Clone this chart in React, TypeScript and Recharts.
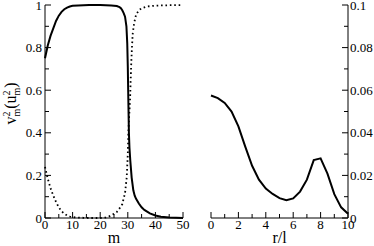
import React from 'react';
import { LineChart, Line, XAxis, YAxis } from 'recharts';

// v_m^2 (solid)
const vM = [0, 1, 2, 3, 4, 5, 6, 7, 8, 9, 10, 12, 14, 16, 18, 20, 22, 24, 25, 26, 27, 27.5, 28, 28.5, 29, 29.5, 29.8, 30, 30.2, 30.4, 30.6, 30.9, 31.4, 32, 32.5, 33, 34, 35, 36, 38, 40, 42, 45, 50];
const vVal = [0.75, 0.81, 0.855, 0.89, 0.925, 0.95, 0.968, 0.98, 0.988, 0.993, 0.996, 0.998, 0.999, 1, 1, 1, 0.999, 0.998, 0.997, 0.995, 0.99, 0.985, 0.975, 0.962, 0.945, 0.9, 0.82, 0.71, 0.55, 0.4, 0.33, 0.27, 0.19, 0.13, 0.105, 0.09, 0.068, 0.05, 0.038, 0.022, 0.012, 0.006, 0.002, 0];

// u_m^2 (dotted)
const uM = [0, 1, 2, 3, 4, 5, 6, 7, 8, 9, 10, 12, 14, 16, 18, 20, 22, 23, 24, 25, 26, 27, 28, 29, 29.6, 30, 30.2, 30.5, 30.8, 31.2, 31.5, 31.8, 32.3, 33, 34, 35, 37, 40, 45, 50];
const uVal = [0.24, 0.185, 0.14, 0.105, 0.075, 0.05, 0.032, 0.02, 0.012, 0.007, 0.004, 0.002, 0.001, 0, 0, 0, 0.002, 0.006, 0.012, 0.02, 0.028, 0.045, 0.065, 0.117, 0.19, 0.3, 0.4, 0.48, 0.55, 0.71, 0.8, 0.868, 0.915, 0.955, 0.975, 0.985, 0.993, 0.997, 0.999, 1];

// g(r)
const rVals = [0, 0.5, 1, 1.5, 2, 2.5, 3, 3.5, 4, 4.5, 5, 5.5, 6, 6.5, 7, 7.5, 8, 8.5, 9, 9.5, 10];
const gVals = [0.0575, 0.0563, 0.054, 0.05, 0.043, 0.0335, 0.0245, 0.018, 0.0138, 0.0113, 0.0093, 0.0083, 0.0092, 0.0124, 0.018, 0.0272, 0.028, 0.0208, 0.0112, 0.005, 0.002];

// ticks (minor + major)
const mTicks = [0, 5, 10, 15, 20, 25, 30, 35, 40, 45, 50];
const vTicks = [0, 0.1, 0.2, 0.3, 0.4, 0.5, 0.6, 0.7, 0.8, 0.9, 1];
const rTicks = [0, 1, 2, 3, 4, 5, 6, 7, 8, 9, 10];
const gTicks = [0, 0.01, 0.02, 0.03, 0.04, 0.05, 0.06, 0.07, 0.08, 0.09, 0.1];

const vData = vM.map((m, i) => ({ m, v: vVal[i] }));
const uData = uM.map((m, i) => ({ m, u: uVal[i] }));
const gData = rVals.map((r, i) => ({ r, g: gVals[i] }));

const FONT = "'Liberation Serif', 'Times New Roman', 'DejaVu Serif', serif";
const txt = { fontFamily: FONT };
const isMajor = (v: number, step: number) => Math.abs(v / step - Math.round(v / step)) < 1e-6;

// inward tick marks; side = where the axis is, labels optional
const makeTick = (side: 'left' | 'right' | 'bottom' | 'top', step: number, labels: boolean) => (props: any) => {
  const { x, y, payload } = props;
  const major = isMajor(payload.value, step);
  const len = major ? 6 : 4;
  let line;
  if (side === 'left') line = <line x1={x} y1={y} x2={x + len} y2={y} stroke="#000" />;
  else if (side === 'right') line = <line x1={x} y1={y} x2={x - len} y2={y} stroke="#000" />;
  else if (side === 'bottom') line = <line x1={x} y1={y} x2={x} y2={y - len} stroke="#000" />;
  else line = <line x1={x} y1={y} x2={x} y2={y + len} stroke="#000" />;
  let label = null;
  if (labels && major) {
    const s = String(payload.value);
    if (side === 'left') label = <text x={x - 3} y={y + 4.5} textAnchor="end" fontSize={13} style={txt} fill="#000">{s}</text>;
    else if (side === 'right') label = <text x={x + 2} y={y + 4.5} textAnchor="start" fontSize={13} style={txt} fill="#000">{s}</text>;
    else if (side === 'bottom') label = <text x={x} y={y + 10.5} textAnchor="middle" fontSize={13} style={txt} fill="#000">{s}</text>;
  }
  return <g>{line}{label}</g>;
};

const VLabel = (props: any) => {
  const vb = props.viewBox || { x: 0, y: 5, width: 45, height: 213 };
  const cx = vb.x + 16;
  const cy = vb.y + vb.height / 2 - 8;
  return (
    <text transform={`translate(${cx},${cy}) rotate(-90)`} textAnchor="middle" fontSize={16} style={txt} fill="#000">
      v<tspan fontSize={10} dy={-6}>2</tspan><tspan fontSize={10} dx={-5} dy={10}>m</tspan>
      <tspan dy={-4}>(u</tspan><tspan fontSize={10} dy={-6}>2</tspan><tspan fontSize={10} dx={-5} dy={10}>m</tspan>
      <tspan dy={-4}>)</tspan>
    </text>
  );
};

const GLabel = (props: any) => {
  const vb = props.viewBox || { x: 21, y: 5, width: 0, height: 213 };
  return (
    <text transform={`translate(${vb.x - 10},${vb.y + vb.height / 2 - 6}) rotate(-90)`} textAnchor="middle" fontSize={15} style={txt} fill="#000">
      g(r)
    </text>
  );
};

const XLabel = (props: any) => {
  const vb = props.viewBox || { x: 0, y: 218, width: 100, height: 28 };
  return (
    <text x={vb.x + vb.width / 2} y={vb.y + 25} textAnchor="middle" fontSize={16} style={txt} fill="#000">
      {props.text}
    </text>
  );
};

const axisStroke = { stroke: '#000' };

export default function App() {
  return (
    <div style={{ position: 'absolute', left: 0, top: 0, width: 374, height: 246, background: '#fff', fontFamily: FONT }}>
      <div style={{ position: 'absolute', left: 0, top: 0 }}>
        <LineChart width={190} height={246} margin={{ top: 5, right: 7, bottom: 0, left: 0 }}>
          <XAxis xAxisId="b" dataKey="m" type="number" domain={[0, 50]} ticks={mTicks} interval={0} height={28}
            axisLine={axisStroke} tickLine={false} tickSize={0} tickMargin={0} tick={makeTick('bottom', 10, true)}
            label={<XLabel text="m" />} />
          <XAxis xAxisId="t" orientation="top" dataKey="m" type="number" domain={[0, 50]} ticks={mTicks} interval={0} height={0}
            axisLine={axisStroke} tickLine={false} tickSize={0} tickMargin={0} tick={makeTick('top', 10, false)} />
          <YAxis yAxisId="l" type="number" domain={[0, 1]} ticks={vTicks} interval={0} width={45}
            axisLine={axisStroke} tickLine={false} tickSize={0} tickMargin={0} tick={makeTick('left', 0.2, true)}
            label={<VLabel />} />
          <YAxis yAxisId="r" orientation="right" type="number" domain={[0, 1]} ticks={vTicks} interval={0} width={0}
            axisLine={axisStroke} tickLine={false} tickSize={0} tickMargin={0} tick={makeTick('right', 0.2, false)} />
          <Line xAxisId="b" yAxisId="l" data={vData} dataKey="v" type="linear" stroke="#000" strokeWidth={2} dot={false} isAnimationActive={false} />
          <Line xAxisId="b" yAxisId="l" data={uData} dataKey="u" type="linear" stroke="#000" strokeWidth={1.8} strokeDasharray="1.6 2.8" dot={false} isAnimationActive={false} />
          <Line xAxisId="t" yAxisId="r" data={vData} dataKey="v" stroke="none" dot={false} isAnimationActive={false} />
        </LineChart>
      </div>
      <div style={{ position: 'absolute', left: 190, top: 0 }}>
        <LineChart width={184} height={246} margin={{ top: 5, right: 0, bottom: 0, left: 21 }}>
          <XAxis xAxisId="b" dataKey="r" type="number" domain={[0, 10]} ticks={rTicks} interval={0} height={28}
            axisLine={axisStroke} tickLine={false} tickSize={0} tickMargin={0} tick={makeTick('bottom', 2, true)}
            label={<XLabel text="r/l" />} />
          <XAxis xAxisId="t" orientation="top" dataKey="r" type="number" domain={[0, 10]} ticks={rTicks} interval={0} height={0}
            axisLine={axisStroke} tickLine={false} tickSize={0} tickMargin={0} tick={makeTick('top', 2, false)} />
          <YAxis yAxisId="l" type="number" domain={[0, 0.1]} ticks={gTicks} interval={0} width={0}
            axisLine={axisStroke} tickLine={false} tickSize={0} tickMargin={0} tick={makeTick('left', 0.02, false)}
            label={<GLabel />} />
          <YAxis yAxisId="r" orientation="right" type="number" domain={[0, 0.1]} ticks={gTicks} interval={0} width={26}
            axisLine={axisStroke} tickLine={false} tickSize={0} tickMargin={0} tick={makeTick('right', 0.02, true)} />
          <Line xAxisId="b" yAxisId="r" data={gData} dataKey="g" type="linear" stroke="#000" strokeWidth={2} dot={false} isAnimationActive={false} />
          <Line xAxisId="t" yAxisId="l" data={gData} dataKey="g" stroke="none" dot={false} isAnimationActive={false} />
        </LineChart>
      </div>
    </div>
  );
}
